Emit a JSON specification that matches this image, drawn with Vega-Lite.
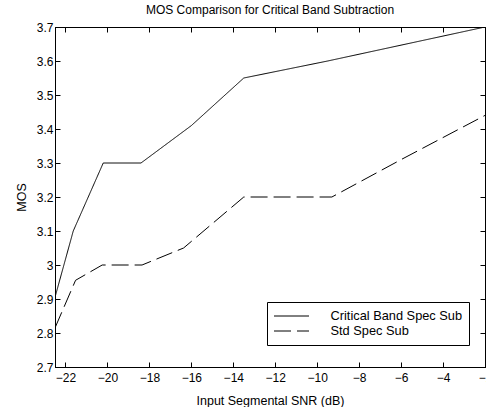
{
  "$schema": "https://vega.github.io/schema/vega-lite/v6.json",
  "autosize": {"type": "none"},
  "padding": {"left": 55, "top": 27, "right": 1, "bottom": 40},
  "width": 430,
  "height": 340,
  "background": "white",
  "config": {
    "font": "Liberation Sans",
    "view": {"stroke": "black", "strokeWidth": 1},
    "axis": {
      "domainColor": "black",
      "tickColor": "black",
      "labelColor": "black",
      "titleColor": "black",
      "labelFont": "Liberation Sans",
      "titleFont": "Liberation Sans",
      "labelFontSize": 12,
      "titleFontSize": 12.5,
      "titleFontWeight": "normal",
      "grid": false,
      "tickSize": -5
    },
    "legend": {
      "title": null,
      "orient": "none",
      "legendX": 212,
      "legendY": 275,
      "direction": "vertical",
      "fillColor": "white",
      "strokeColor": "black",
      "padding": 6.5,
      "symbolType": "M-1,0H4",
      "symbolSize": 196,
      "symbolStrokeWidth": 1,
      "symbolStrokeColor": "black",
      "symbolFillColor": "transparent",
      "labelFontSize": 12.8,
      "labelFont": "Liberation Sans",
      "labelColor": "black",
      "labelOffset": 42,
      "rowPadding": 0,
      "labelLimit": 300
    }
  },
  "title": {
    "text": "MOS Comparison for Critical Band Subtraction",
    "fontSize": 12,
    "fontWeight": "normal",
    "font": "Liberation Sans",
    "color": "black",
    "offset": 4
  },
  "data": {
    "values": [
      {"snr": -22.5, "mos": 2.905, "method": "Critical Band Spec Sub"},
      {"snr": -21.63, "mos": 3.1, "method": "Critical Band Spec Sub"},
      {"snr": -20.2, "mos": 3.3, "method": "Critical Band Spec Sub"},
      {"snr": -18.4, "mos": 3.3, "method": "Critical Band Spec Sub"},
      {"snr": -16.0, "mos": 3.41, "method": "Critical Band Spec Sub"},
      {"snr": -13.5, "mos": 3.55, "method": "Critical Band Spec Sub"},
      {"snr": -9.5, "mos": 3.6, "method": "Critical Band Spec Sub"},
      {"snr": -2.0, "mos": 3.7, "method": "Critical Band Spec Sub"},
      {"snr": -22.5, "mos": 2.815, "method": "Std Spec Sub"},
      {"snr": -21.52, "mos": 2.955, "method": "Std Spec Sub"},
      {"snr": -20.25, "mos": 3.0, "method": "Std Spec Sub"},
      {"snr": -18.35, "mos": 3.0, "method": "Std Spec Sub"},
      {"snr": -16.37, "mos": 3.05, "method": "Std Spec Sub"},
      {"snr": -13.5, "mos": 3.2, "method": "Std Spec Sub"},
      {"snr": -9.3, "mos": 3.2, "method": "Std Spec Sub"},
      {"snr": -6.0, "mos": 3.31, "method": "Std Spec Sub"},
      {"snr": -2.0, "mos": 3.44, "method": "Std Spec Sub"}
    ]
  },
  "layer": [
    {
      "mark": {"type": "line", "strokeWidth": 1, "clip": true},
      "encoding": {
        "x": {
          "field": "snr", "type": "quantitative",
          "scale": {"domain": [-22.5, -2], "nice": false, "zero": false},
          "axis": {"title": "Input Segmental SNR (dB)", "values": [-22, -20, -18, -16, -14, -12, -10, -8, -6, -4, -2], "labelPadding": 10, "titlePadding": 11, "labelFlush": false}
        },
        "y": {
          "field": "mos", "type": "quantitative",
          "scale": {"domain": [2.7, 3.7], "nice": false, "zero": false},
          "axis": {"title": "MOS", "values": [2.7, 2.8, 2.9, 3.0, 3.1, 3.2, 3.3, 3.4, 3.5, 3.6, 3.7], "format": "~g", "labelPadding": 7, "titlePadding": 8, "labelFlush": false}
        },
        "color": {
          "field": "method", "type": "nominal",
          "scale": {"domain": ["Critical Band Spec Sub", "Std Spec Sub"], "range": ["black", "black"]}
        },
        "strokeDash": {
          "field": "method", "type": "nominal",
          "scale": {"domain": ["Critical Band Spec Sub", "Std Spec Sub"], "range": [[1, 0], [17, 6]]}
        }
      }
    },
    {
      "mark": {"type": "point", "opacity": 0},
      "encoding": {
        "x": {
          "field": "snr", "type": "quantitative",
          "axis": {"orient": "top", "title": null, "labels": false, "values": [-22, -20, -18, -16, -14, -12, -10, -8, -6, -4, -2]}
        },
        "y": {
          "field": "mos", "type": "quantitative",
          "axis": {"orient": "right", "title": null, "labels": false, "values": [2.7, 2.8, 2.9, 3.0, 3.1, 3.2, 3.3, 3.4, 3.5, 3.6, 3.7]}
        }
      }
    }
  ],
  "resolve": {"axis": {"x": "independent", "y": "independent"}}
}
